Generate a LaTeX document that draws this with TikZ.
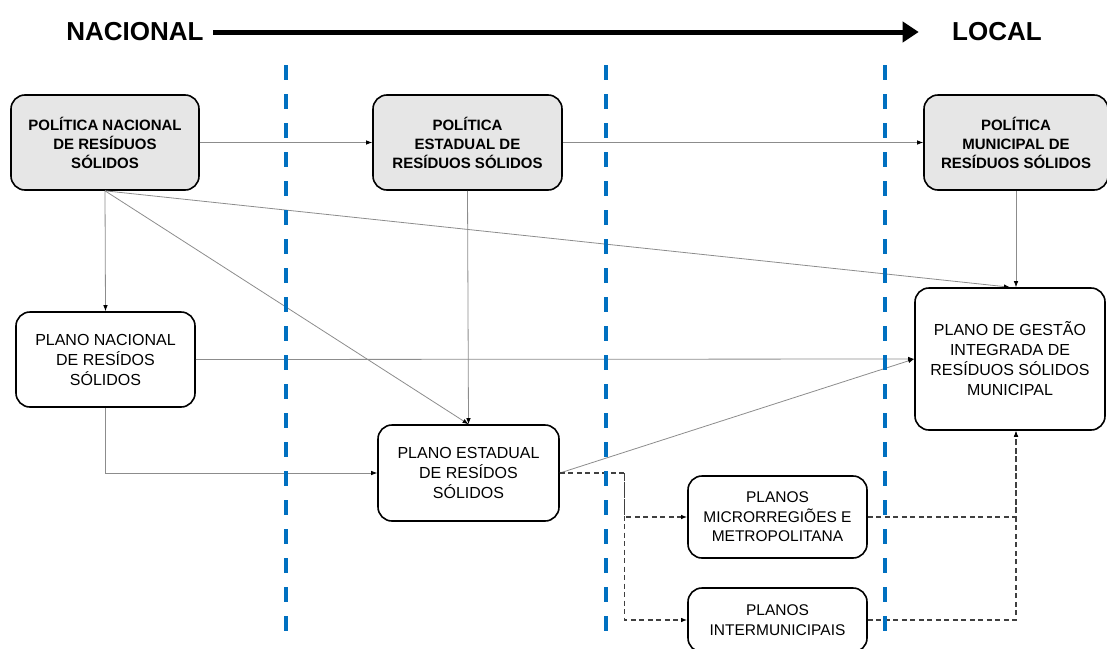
\documentclass[tikz,border=0pt]{standalone}
\usepackage{fontspec}
\setmainfont{Liberation Sans}
\usetikzlibrary{shapes}
\usetikzlibrary{arrows.meta}
\usetikzlibrary{positioning}
\usetikzlibrary{calc}

\definecolor{boxgray}{HTML}{E6E6E6}
\definecolor{linegray}{HTML}{8C8C8C}
\definecolor{dashgray}{HTML}{404040}
\definecolor{divblue}{HTML}{0070C0}

\begin{document}
\begin{tikzpicture}[
        x=1pt, y=-1pt,
        politica/.style = {draw, line width=1.6pt, rounded corners=14pt,
                           fill=boxgray, align=center, inner sep=0pt,
                           font=\bfseries\fontsize{15}{19}\selectfont},
        plano/.style = {draw, line width=1.6pt, rounded corners=14pt,
                        fill=white, align=center, inner sep=0pt,
                        font=\fontsize{16}{20}\selectfont},
        link/.style = {draw=linegray, line width=0.8pt,
                       -{Latex[length=6pt,width=4.5pt,color=black]}},
        dlink/.style = {draw=dashgray, line width=1.2pt, dash pattern=on 5pt off 3.5pt,
                        -{Latex[length=6pt,width=4.5pt,color=black]}},
        divisa/.style = {draw=divblue, line width=4pt, dash pattern=on 15pt off 14pt}
        ]
        \useasboundingbox (0,0) rectangle (1107,648);

        % escala nacional -> local
        \node[font=\bfseries\fontsize{26}{30}\selectfont] (Nacional) at (135,32) {NACIONAL};
        \node[font=\bfseries\fontsize{26}{30}\selectfont] (Local) at (997,32) {LOCAL};
        \draw[line width=5pt, -{Triangle[length=16pt,width=20pt]}] (Nacional.east) ++(6,0) -- ($(Local.west)+(-30,0)$);

        % politicas
        \node[politica, minimum width=188pt, minimum height=95pt] (PNRS) at (105,142.5) {POLÍTICA NACIONAL\\DE RESÍDUOS\\SÓLIDOS};
        \node[politica, minimum width=189pt, minimum height=95pt] (PERS) at (467.5,142.5) {POLÍTICA\\ESTADUAL DE\\RESÍDUOS SÓLIDOS};
        \node[politica, minimum width=184pt, minimum height=95pt] (PMRS) at (1016,142.5) {POLÍTICA\\MUNICIPAL DE\\RESÍDUOS SÓLIDOS};

        % planos
        \node[plano, minimum width=179pt, minimum height=95pt] (PlanoNac) at (105.5,359.5) {PLANO NACIONAL\\DE RESÍDOS\\SÓLIDOS};
        \node[plano, minimum width=181pt, minimum height=96pt] (PlanoEst) at (468.5,473) {PLANO ESTADUAL\\DE RESÍDOS\\SÓLIDOS};
        \node[plano, minimum width=190pt, minimum height=142pt] (PlanoGest) at (1010,359) {PLANO DE GESTÃO\\INTEGRADA DE\\RESÍDUOS SÓLIDOS\\MUNICIPAL};
        \node[plano, font=\fontsize{15.5}{19.5}\selectfont, minimum width=179pt, minimum height=82pt] (Micro) at (777.5,517) {PLANOS\\MICRORREGIÕES E\\METROPOLITANA};
        \node[plano, font=\fontsize{15.5}{19.5}\selectfont, minimum width=179pt, minimum height=64pt] (Inter) at (777.5,620) {PLANOS\\INTERMUNICIPAIS};

        % ligacoes
        \draw[link] (PNRS) -- (PERS);
        \draw[link] (PERS) -- (PMRS);
        \draw[link] (PNRS.south) -- (PlanoNac.north);
        \draw[link] (PNRS.south) -- (PlanoEst.north);
        \draw[link] (PNRS.south) -- (PlanoGest.north);
        \draw[link] (PERS.south) -- (PlanoEst.north);
        \draw[link] (PMRS.south) -- (PMRS.south |- PlanoGest.north);
        \draw[link] (PlanoNac.east) -- (PlanoGest.west);
        \draw[link] (PlanoNac.south) |- (PlanoEst.west);
        \draw[link] (PlanoEst.east) -- (PlanoGest.west);

        \coordinate (Ramo) at ($(PlanoEst.east)+(65,0)$);
        \draw[dlink] (PlanoEst.east) -- (Ramo) |- (Micro.west);
        \draw[dlink] (Ramo) |- (Inter.west);
        \draw[dlink] (Micro.east) -| (PMRS.south |- PlanoGest.south);
        \draw[dlink] (Inter.east) -| (PMRS.south |- PlanoGest.south);

        % divisoes
        \draw[divisa] (286,65) -- (286,636);
        \draw[divisa] (606,65) -- (606,636);
        \draw[divisa] (885,65) -- (885,636);
    \end{tikzpicture}
\end{document}
